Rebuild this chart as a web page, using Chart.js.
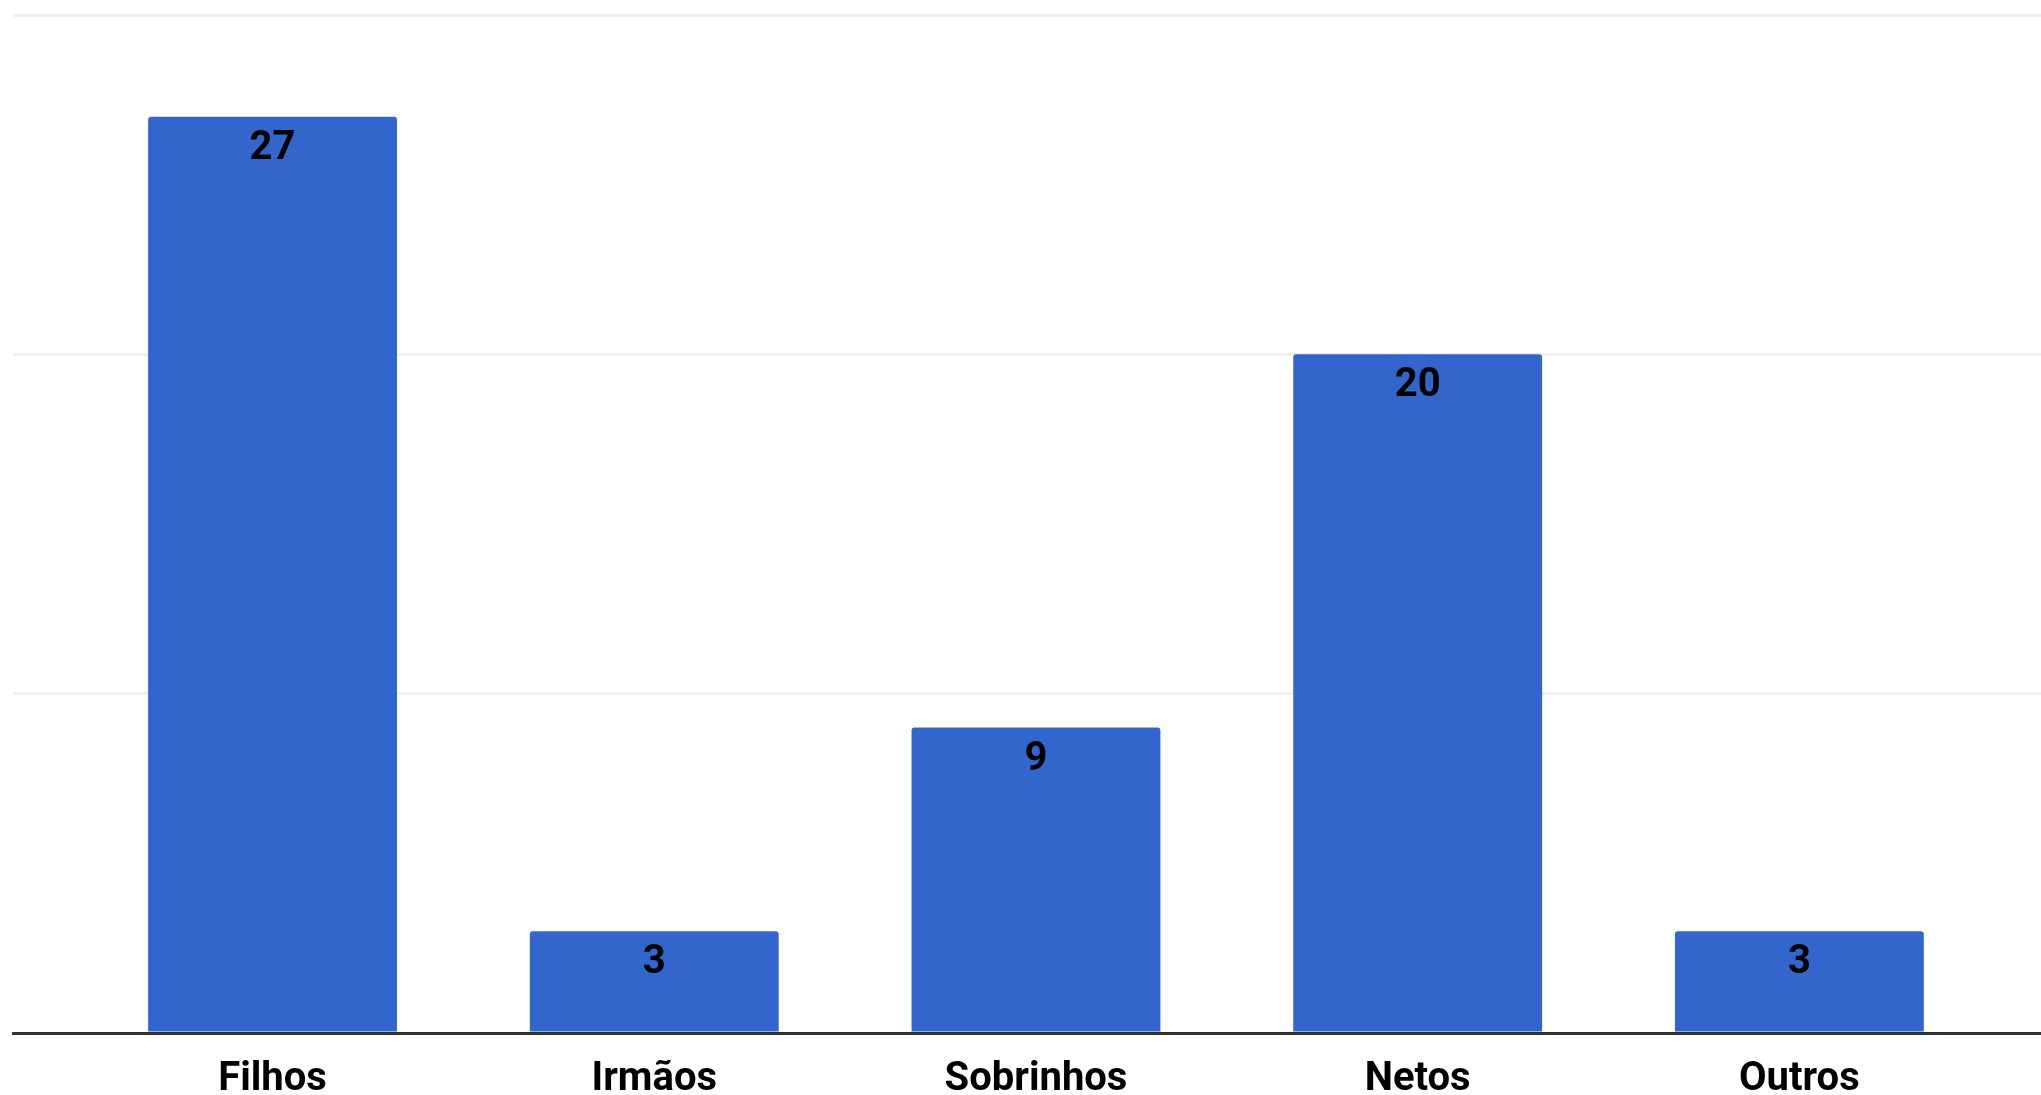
<!DOCTYPE html>
<html>
<head>
<meta charset="utf-8">
<script src="https://cdn.jsdelivr.net/npm/chart.js@4.4.1/dist/chart.umd.min.js"></script>
<style>
  html, body { margin: 0; padding: 0; background: #ffffff; }
  canvas { display: block; }
</style>
</head>
<body>
<canvas id="c" width="2041" height="1095"></canvas>
<script>
const categories = ['Filhos', 'Irmãos', 'Sobrinhos', 'Netos', 'Outros'];
const values = [27, 3, 9, 20, 3];
const yTicks = [0, 10, 20, 30];

const barColor = '#3366cc';
const fontFamily = 'Roboto, "Liberation Sans", Arial, sans-serif';

const valueLabels = {
  id: 'valueLabels',
  afterDatasetsDraw(chart) {
    const ctx = chart.ctx;
    const meta = chart.getDatasetMeta(0);
    ctx.save();
    ctx.font = 'bold 40px ' + fontFamily;
    ctx.fillStyle = '#000000';
    ctx.textAlign = 'center';
    ctx.textBaseline = 'alphabetic';
    meta.data.forEach((bar, i) => {
      ctx.fillText(String(values[i]), bar.x, bar.y + 42);
    });
    ctx.restore();
  }
};

new Chart(document.getElementById('c'), {
  type: 'bar',
  data: {
    datasets: [{
      data: values.map((v, i) => ({ x: i, y: v })),
      backgroundColor: barColor,
      borderWidth: 0,
      borderRadius: 3,
      borderSkipped: 'start',
      barPercentage: 0.652,
      categoryPercentage: 1
    }]
  },
  options: {
    responsive: false,
    animation: false,
    devicePixelRatio: 1,
    layout: { padding: { left: 13, right: 0, top: 15, bottom: 0 } },
    plugins: {
      legend: { display: false },
      tooltip: { enabled: false }
    },
    scales: {
      x: {
        type: 'linear',
        offset: false,
        min: -0.68,
        max: 4.633,
        afterBuildTicks: s => { s.ticks = categories.map((_, i) => ({ value: i })); },
        afterFit: s => { s.height = 62; },
        grid: { display: false, drawTicks: false, offset: false },
        border: { display: true, color: '#333333', width: 3 },
        ticks: {
          autoSkip: false,
          maxRotation: 0,
          padding: 27,
          color: '#000000',
          font: { family: fontFamily, size: 40, weight: 'bold', lineHeight: 1 },
          callback: v => categories[v]
        }
      },
      y: {
        min: 0,
        max: 30,
        afterBuildTicks: s => { s.ticks = yTicks.map(v => ({ value: v })); },
        afterFit: s => { s.width = 0; },
        border: { display: false },
        grid: {
          drawTicks: false,
          lineWidth: 3,
          color: c => (c.tick && c.tick.value === 0) ? 'rgba(0,0,0,0)' : '#f0f0f0'
        },
        ticks: { display: false }
      }
    }
  },
  plugins: [valueLabels]
});
</script>
</body>
</html>
